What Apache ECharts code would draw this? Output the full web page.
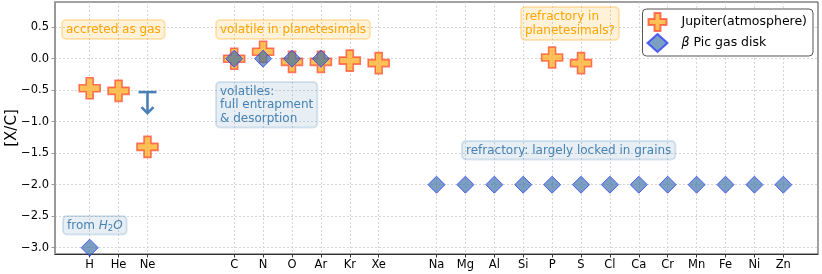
<!DOCTYPE html>
<html><head><meta charset="utf-8">
<script src="https://cdn.jsdelivr.net/npm/echarts@6/dist/echarts.min.js"></script>
<style>html,body{margin:0;padding:0;background:#fff}#c{width:822px;height:274px}</style>
</head><body><div id="c"></div>
<script>
// ---- data ----
const elements = ['H','He','Ne','C','N','O','Ar','Kr','Xe','Na','Mg','Al','Si','P','S','Cl','Ca','Cr','Mn','Fe','Ni','Zn'];
const elementPos = [0,1,2,5,6,7,8,9,10,12,13,14,15,16,17,18,19,20,21,22,23,24];
const jupiterElements = ['H','He','Ne','C','N','O','Ar','Kr','Xe','P','S'];
const jupiterValues = [-0.47,-0.51,-1.40,0.00,0.11,-0.05,-0.05,-0.03,-0.07,0.02,-0.07];
const betaPicElements = ['H','C','N','O','Ar','Na','Mg','Al','Si','P','S','Cl','Ca','Cr','Mn','Fe','Ni','Zn'];
const betaPicValues = [-3.0,0.0,0.0,0.0,0.0,-2.0,-2.0,-2.0,-2.0,-2.0,-2.0,-2.0,-2.0,-2.0,-2.0,-2.0,-2.0,-2.0];
const betaPicLimitElements = ['Ne'];
const betaPicLimitValues = [-0.53];
const yTicks = [-3.0,-2.5,-2.0,-1.5,-1.0,-0.5,0.0,0.5];

const posOf = e => elementPos[elements.indexOf(e)];
const plusPath = 'path://M1,0L2,0L2,1L3,1L3,2L2,2L2,3L1,3L1,2L0,2L0,1L1,1Z';
const FONT = 'DejaVu Sans';
const ORANGE = '#ffa500';
const BLUE = '#4682b4';

const chart = echarts.init(document.getElementById('c'), null, {renderer:'canvas'});
const fmtY = v => (v < 0 ? '\u2212' : '') + Math.abs(v).toFixed(1);

const orangeBox = {fill: ORANGE, font: '12px "DejaVu Sans"', backgroundColor: 'rgba(255,165,0,0.15)',
  borderColor: 'rgba(255,165,0,0.25)', borderWidth: 1, borderRadius: 4, padding: [3,4,2,4], lineHeight: 14};
const blueBox = {fill: BLUE, font: '12px "DejaVu Sans"', backgroundColor: 'rgba(70,130,180,0.13)',
  borderColor: 'rgba(70,130,180,0.2)', borderWidth: 1, borderRadius: 4, padding: [3,4,2,4], lineHeight: 13.5};

chart.setOption({
  animation: false,
  textStyle: {fontFamily: FONT},
  grid: {left: 55, right: 4, top: 2, bottom: 20, containLabel: false, outerBoundsMode: 'none',
    show: true, borderColor: '#444', borderWidth: 1, backgroundColor: 'transparent'},
  xAxis: {
    type: 'value', min: -1.2, max: 25.2,
    axisLine: {show: true, onZero: false, lineStyle: {color: '#333', width: 1.2}},
    axisTick: {show: true, length: 3.5, customValues: elementPos, lineStyle: {color: '#333'}},
    axisLabel: {customValues: elementPos, color: '#000', fontSize: 11.5, margin: 5, fontFamily: FONT,
      formatter: v => elements[elementPos.indexOf(Math.round(v))] || ''},
    splitLine: {show: true, lineStyle: {color: '#ccc', type: [2,2], width: 0.8}}
  },
  yAxis: {
    type: 'value', min: -3.1, max: 0.9,
    name: '[X/C]', nameLocation: 'middle', nameGap: 35, nameRotate: 90, nameMoveOverlap: false,
    nameTextStyle: {fontSize: 15, color: '#000', fontFamily: FONT},
    axisLine: {show: true, onZero: false, lineStyle: {color: '#999', width: 2}},
    axisTick: {show: true, length: 3.5, customValues: yTicks, lineStyle: {color: '#999'}},
    axisLabel: {customValues: yTicks, color: '#000', fontSize: 11.5, margin: 6, fontFamily: FONT, formatter: fmtY},
    splitLine: {show: true, lineStyle: {color: '#ccc', type: [2,2], width: 0.8}}
  },
  legend: {
    right: 9, top: 9, orient: 'vertical',
    backgroundColor: '#fff', borderColor: '#555', borderWidth: 1, borderRadius: 4,
    padding: [3,6,3,4], itemWidth: 20, itemHeight: 18, itemGap: 1,
    textStyle: {fontSize: 12.5, color: '#000', fontFamily: FONT, padding: [0,0,0,9],
      rich: {i: {fontStyle: 'italic', fontSize: 12.5, fontFamily: FONT}, n: {fontSize: 12.5, fontFamily: FONT}}},
    formatter: name => name === 'β Pic gas disk' ? '{i|β} {n|Pic gas disk}' : name,
    data: [
      {name: 'Jupiter(atmosphere)', icon: plusPath},
      {name: 'β Pic gas disk', icon: 'diamond'}
    ]
  },
  series: [
    {
      name: 'Jupiter(atmosphere)', type: 'scatter', z: 2,
      symbol: plusPath, symbolSize: 21,
      itemStyle: {color: 'rgba(255,172,35,0.95)', borderColor: 'rgba(255,60,40,0.85)', borderWidth: 1.6},
      data: jupiterElements.map((e,i) => [posOf(e), jupiterValues[i]])
    },
    {
      name: 'β Pic gas disk', type: 'scatter', z: 3,
      symbol: 'diamond', symbolSize: [17,17],
      itemStyle: {color: 'rgba(60,115,165,0.85)', borderColor: '#3040ff', borderWidth: 1},
      data: betaPicElements.map((e,i) => [posOf(e), betaPicValues[i]])
    },
    {
      name: 'limit', type: 'custom', z: 3, silent: true,
      data: betaPicLimitElements.map((e,i) => [posOf(e), betaPicLimitValues[i]]),
      renderItem: (params, api) => {
        const p = api.coord([api.value(0), api.value(1)]);
        const len = 21, col = '#4a80b8', lw = 2.6;
        return {type: 'group', children: [
          {type: 'line', shape: {x1: p[0]-9, y1: p[1], x2: p[0]+9, y2: p[1]}, style: {stroke: col, lineWidth: lw}},
          {type: 'line', shape: {x1: p[0], y1: p[1], x2: p[0], y2: p[1]+len-1}, style: {stroke: col, lineWidth: lw}},
          {type: 'polyline', shape: {points: [[p[0]-6, p[1]+len-6], [p[0], p[1]+len], [p[0]+6, p[1]+len-6]]},
            style: {stroke: col, lineWidth: lw, fill: null}}
        ]};
      }
    }
  ],
  graphic: [
    {type: 'text', x: 62, y: 20, z: 10, style: Object.assign({text: 'accreted as gas'}, orangeBox)},
    {type: 'text', x: 216, y: 20, z: 10, style: Object.assign({text: 'volatile in planetesimals'}, orangeBox)},
    {type: 'text', x: 521, y: 7, z: 10, style: Object.assign({text: 'refractory in\nplanetesimals?'}, orangeBox)},
    {type: 'text', x: 216, y: 82, z: 10, style: Object.assign({text: 'volatiles:\nfull entrapment\n& desorption'}, blueBox)},
    {type: 'text', x: 462, y: 141, z: 10, style: Object.assign({text: 'refractory: largely locked in grains'}, blueBox)},
    {type: 'text', x: 63, y: 216, z: 10, style: Object.assign({
      text: '{n|from }{i|H}{s|2}{i|O}',
      rich: {n: {fill: BLUE, fontSize: 12, fontFamily: FONT}, i: {fill: BLUE, fontSize: 12, fontStyle: 'italic', fontFamily: FONT},
             s: {fill: BLUE, fontSize: 8.5, fontFamily: FONT, padding: [7,0,0,0]}}
    }, blueBox)}
  ]
});
</script></body></html>
